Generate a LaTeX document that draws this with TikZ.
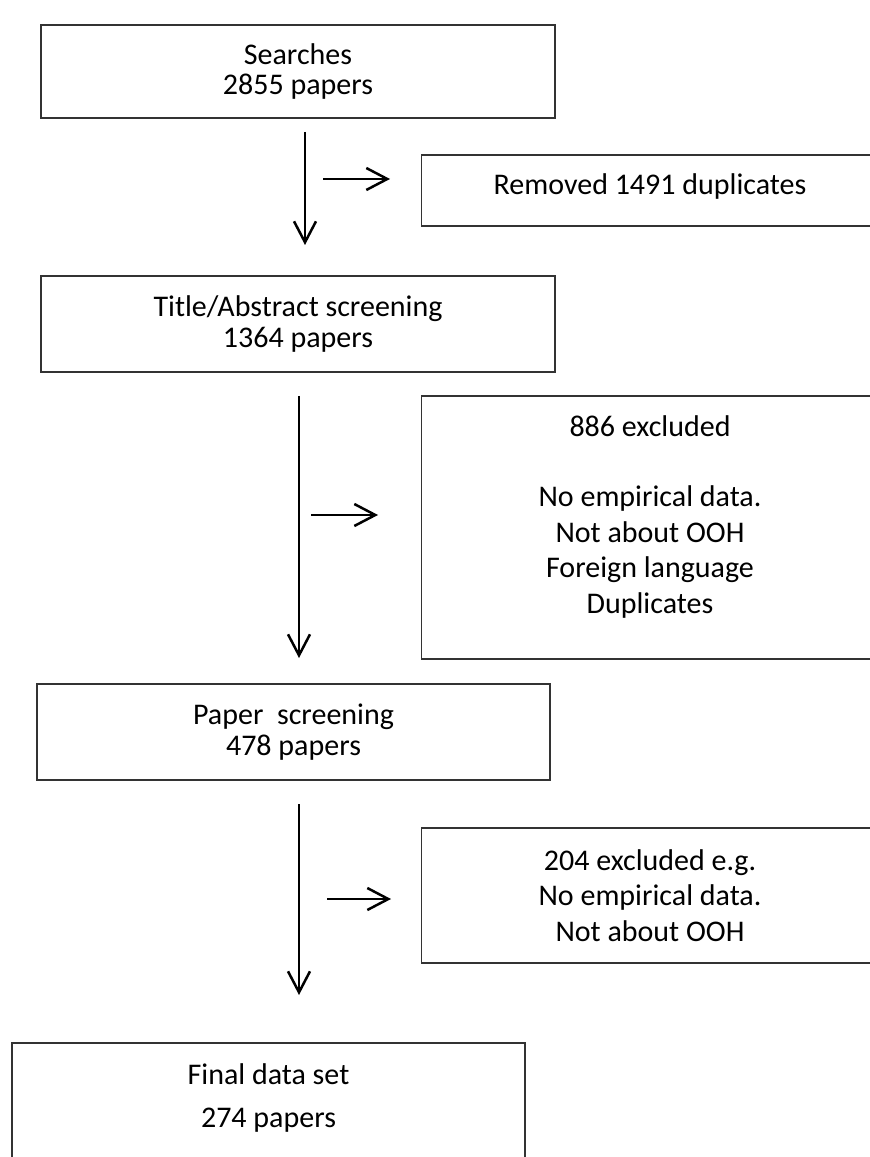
\documentclass[tikz,border=0pt]{standalone}
\usepackage{fontspec}
\setmainfont{Carlito}
\usetikzlibrary{arrows.meta}

\begin{document}
\begin{tikzpicture}[x=0.4pt, y=-0.4pt,
    box/.style={draw=black!80, line width=0.55pt, rectangle, align=center,
        inner sep=0pt, font=\fontsize{12}{14.2}\selectfont},
    tight/.style={font=\fontsize{12}{12.2}\selectfont}]
\clip (0,0) rectangle (870,1157);

\node[box, tight, minimum width=205.6pt, minimum height=37.2pt] (search) at (298,71.5) {Searches\\2855 papers};
\node[box, minimum width=183pt,   minimum height=28.4pt] (dupl)   at (650,190.5) {Removed 1491 duplicates\\[-9pt]\mbox{}};
\node[box, tight, minimum width=205.6pt, minimum height=38.4pt] (title)  at (298,324)  {Title/Abstract screening\\1364 papers};
\node[box, minimum width=183pt,   minimum height=105.2pt] (excl1) at (650,527.5)
    {886 excluded\\[14pt]No empirical data.\\Not about OOH\\Foreign language\\Duplicates\\[-3.6pt]\mbox{}};
\node[box, tight, minimum width=205.2pt, minimum height=38.4pt] (paper)  at (293.5,732) {Paper\ \ screening\\478 papers};
\node[box, minimum width=183pt,   minimum height=54pt]   (excl2)  at (650,895.5) {204 excluded e.g.\\No empirical data.\\Not about OOH};
\node[box, minimum width=205.2pt, minimum height=52.8pt] (final)  at (268.5,1109)
    {Final data set\\[2.8pt]274 papers\\[-3.6pt]\mbox{}};

% arrow ends
\coordinate (d1) at (305,132);  \coordinate (e1) at (305,245);
\coordinate (r1) at (323,179);  \coordinate (s1) at (390,179);
\coordinate (d2) at (299,396);  \coordinate (e2) at (299,658);
\coordinate (r2) at (311,515);  \coordinate (s2) at (378,515);
\coordinate (d3) at (299,804);  \coordinate (e3) at (299,995);
\coordinate (r3) at (327,899);  \coordinate (s3) at (391,899);

\path[
    every edge/.style={draw, line width=1pt,
        -{Straight Barb[length=8.4pt,width=8.8pt]}},
    ]
     (d1) edge (e1)
     (r1) edge (s1)
     (d2) edge (e2)
     (r2) edge (s2)
     (d3) edge (e3)
     (r3) edge (s3);
\end{tikzpicture}
\end{document}
